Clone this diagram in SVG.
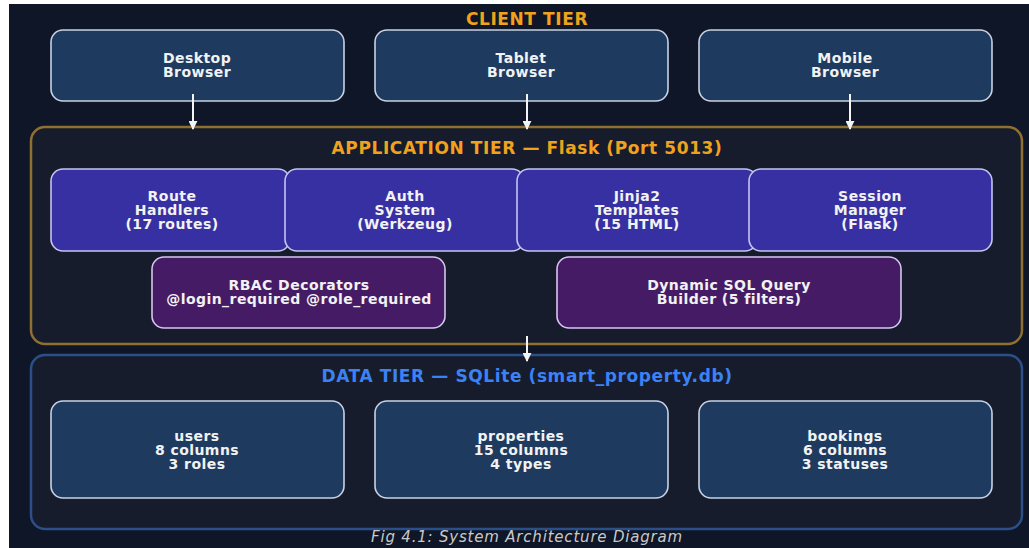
<svg xmlns="http://www.w3.org/2000/svg" width="1029" height="548" viewBox="0 0 1029 548">
  <defs>
    <style>
      .bg { fill: #0f1627; }
      .tier-app { fill: #161c2c; stroke: #8f7030; stroke-width: 2.5; }
      .tier-data { fill: #161c2c; stroke: #2b4f86; stroke-width: 2.5; }
      .client { fill: #1e3a5f; stroke: #c9d2e3; stroke-width: 1.6; }
      .comp { fill: #3730a3; stroke: #c7c3f2; stroke-width: 1.6; }
      .util { fill: #461b66; stroke: #d5c6ee; stroke-width: 1.6; }
      .table { fill: #1e3a5f; stroke: #c9d2e3; stroke-width: 1.6; }
      .label { font-family: "DejaVu Sans", sans-serif; font-weight: bold; font-size: 14px; letter-spacing: 0.45px; fill: #f2f2f2; text-anchor: middle; }
      .title { font-family: "DejaVu Sans", sans-serif; font-weight: bold; font-size: 17px; letter-spacing: 0.6px; text-anchor: middle; }
      .gold { fill: #f0a21c; }
      .blue { fill: #3b82f6; }
      .caption { font-family: "DejaVu Sans", sans-serif; font-style: italic; font-size: 15px; letter-spacing: 0.8px; fill: #c9c9c9; text-anchor: middle; }
      .flow { stroke: #f4f4f4; stroke-width: 2; fill: none; marker-end: url(#arrow); }
    </style>
    <marker id="arrow" viewBox="0 0 10 10" refX="9" refY="5" markerWidth="4.5" markerHeight="4.5" orient="auto">
      <path d="M0,0 L10,5 L0,10 z" fill="#f4f4f4"/>
    </marker>
  </defs>

  <!-- page margin and canvas -->
  <rect x="0" y="0" width="1029" height="548" fill="#ffffff"/>
  <rect class="bg" x="9" y="4" width="1020" height="544"/>

  <!-- tier containers -->
  <g id="application-tier">
    <rect class="tier-app" x="31" y="127" width="991" height="217" rx="14"/>
    <text class="title gold" x="527" y="154">APPLICATION TIER — Flask (Port 5013)</text>
  </g>
  <g id="data-tier">
    <rect class="tier-data" x="31" y="355" width="991" height="174" rx="14"/>
    <text class="title blue" x="527" y="382">DATA TIER — SQLite (smart_property.db)</text>
  </g>

  <text id="client-tier-title" class="title gold" x="527" y="25">CLIENT TIER</text>

  <!-- client tier -->
  <g id="desktop-browser">
    <rect class="client" x="51" y="30" width="293" height="71" rx="12"/>
    <text class="label" x="197" y="63">Desktop</text>
    <text class="label" x="197" y="77">Browser</text>
  </g>
  <g id="tablet-browser">
    <rect class="client" x="375" y="30" width="293" height="71" rx="12"/>
    <text class="label" x="521" y="63">Tablet</text>
    <text class="label" x="521" y="77">Browser</text>
  </g>
  <g id="mobile-browser">
    <rect class="client" x="699" y="30" width="293" height="71" rx="12"/>
    <text class="label" x="845" y="63">Mobile</text>
    <text class="label" x="845" y="77">Browser</text>
  </g>

  <!-- application components -->
  <g id="route-handlers">
    <rect class="comp" x="51" y="169" width="239" height="82" rx="12"/>
    <text class="label" x="172" y="201">Route</text>
    <text class="label" x="172" y="215">Handlers</text>
    <text class="label" x="172" y="229">(17 routes)</text>
  </g>
  <g id="auth-system">
    <rect class="comp" x="285" y="169" width="239" height="82" rx="12"/>
    <text class="label" x="405" y="201">Auth</text>
    <text class="label" x="405" y="215">System</text>
    <text class="label" x="405" y="229">(Werkzeug)</text>
  </g>
  <g id="jinja2-templates">
    <rect class="comp" x="517" y="169" width="240" height="82" rx="12"/>
    <text class="label" x="637" y="201">Jinja2</text>
    <text class="label" x="637" y="215">Templates</text>
    <text class="label" x="637" y="229">(15 HTML)</text>
  </g>
  <g id="session-manager">
    <rect class="comp" x="749" y="169" width="243" height="82" rx="12"/>
    <text class="label" x="870" y="201">Session</text>
    <text class="label" x="870" y="215">Manager</text>
    <text class="label" x="870" y="229">(Flask)</text>
  </g>
  <g id="rbac-decorators">
    <rect class="util" x="152" y="257" width="293" height="71" rx="12"/>
    <text class="label" x="299" y="290">RBAC Decorators</text>
    <text class="label" x="299" y="304">@login_required @role_required</text>
  </g>
  <g id="sql-query-builder">
    <rect class="util" x="557" y="257" width="344" height="71" rx="12"/>
    <text class="label" x="729" y="290">Dynamic SQL Query</text>
    <text class="label" x="729" y="304">Builder (5 filters)</text>
  </g>

  <!-- database tables -->
  <g id="users-table">
    <rect class="table" x="51" y="401" width="293" height="97" rx="12"/>
    <text class="label" x="197" y="441">users</text>
    <text class="label" x="197" y="455">8 columns</text>
    <text class="label" x="197" y="469">3 roles</text>
  </g>
  <g id="properties-table">
    <rect class="table" x="375" y="401" width="293" height="97" rx="12"/>
    <text class="label" x="521" y="441">properties</text>
    <text class="label" x="521" y="455">15 columns</text>
    <text class="label" x="521" y="469">4 types</text>
  </g>
  <g id="bookings-table">
    <rect class="table" x="699" y="401" width="293" height="97" rx="12"/>
    <text class="label" x="845" y="441">bookings</text>
    <text class="label" x="845" y="455">6 columns</text>
    <text class="label" x="845" y="469">3 statuses</text>
  </g>

  <!-- request flow -->
  <g id="connectors">
    <line class="flow" x1="193" y1="94" x2="193" y2="129"/>
    <line class="flow" x1="527" y1="94" x2="527" y2="129"/>
    <line class="flow" x1="850" y1="94" x2="850" y2="129"/>
    <line class="flow" x1="527" y1="336" x2="527" y2="361"/>
  </g>

  <text class="caption" x="527" y="542">Fig 4.1: System Architecture Diagram</text>
</svg>
